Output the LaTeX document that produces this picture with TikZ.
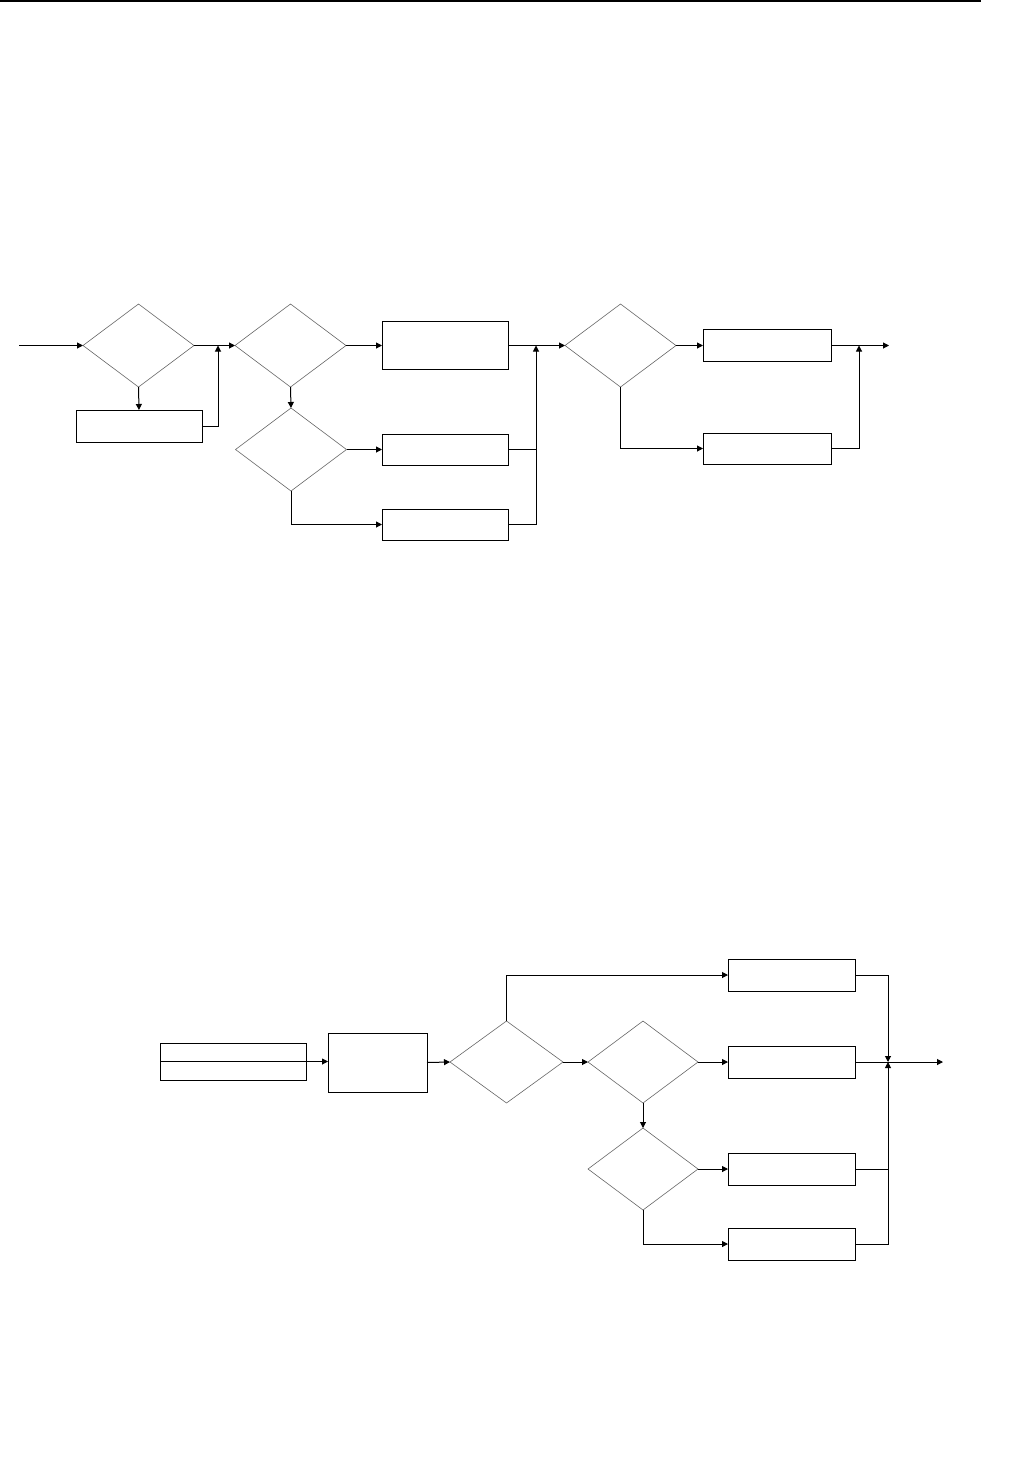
\documentclass[tikz,border=0pt]{standalone}
\usetikzlibrary{shapes.geometric,arrows.meta}
\begin{document}
\begin{tikzpicture}[x=1pt,y=-1pt,
  box/.style={draw, line width=1pt, inner sep=0pt, outer sep=0pt},
  dia/.style={diamond, draw=black!60, line width=0.6pt, inner sep=0pt, outer sep=0pt, minimum width=111pt, minimum height=83pt},
  arr/.style={-{Triangle[length=6pt,width=6pt]}, line width=1pt},
  ln/.style={line width=1pt}]
\useasboundingbox (0,0) rectangle (1021,1467);
\draw[line width=1.2pt] (0,1) -- (981,1);
% ---------- diagram 1 ----------
\node[dia] (D1) at (138.5,345.5) {};
\node[box, minimum width=126pt, minimum height=32pt] (B1) at (139,426) {};
\node[dia] (D2) at (290.5,345.5) {};
\node[dia] (D3) at (291,449.5) {};
\node[box, minimum width=126pt, minimum height=48pt] (B2) at (445,345.5) {};
\node[box, minimum width=126pt, minimum height=31pt] (B3) at (445,449.5) {};
\node[box, minimum width=126pt, minimum height=31pt] (B4) at (445,524.5) {};
\node[dia] (D4) at (620.5,345.5) {};
\node[box, minimum width=128pt, minimum height=32pt] (B5) at (767,345.5) {};
\node[box, minimum width=128pt, minimum height=31pt] (B6) at (767,448.5) {};
\coordinate (in1) at (19,345.5);
\coordinate (J1) at (218,345.5);
\coordinate (J2) at (536,345.5);
\coordinate (J3) at (859,345.5);
\coordinate (out1) at (889,345.5);
\draw[arr] (in1) -- (D1.west);
\draw[arr] (D1.south) -- (B1.north);
\draw[arr] (B1.east) -| (J1);
\draw[arr] (D1.east) -- (D2.west);
\draw[arr] (D2.east) -- (B2.west);
\draw[arr] (D2.south) -- (D3.north);
\draw[arr] (D3.east) -- (B3.west);
\draw[arr] (D3.south) |- (B4.west);
\draw[arr] (B2.east) -- (D4.west);
\draw[arr] (B4.east) -| (J2);
\draw[ln] (B3.east) -- (B3.east -| J2);
\draw[arr] (D4.east) -- (B5.west);
\draw[arr] (D4.south) |- (B6.west);
\draw[arr] (B5.east) -- (out1);
\draw[arr] (B6.east) -| (J3);
% ---------- diagram 2 ----------
\node[box, minimum width=146pt, minimum height=37pt] (A) at (233,1061.5) {};
\node[box, minimum width=99pt, minimum height=59pt] (C) at (377.5,1062.5) {};
\node[dia, minimum width=113pt, minimum height=82pt] (D5) at (506.5,1062) {};
\node[dia, minimum width=110pt, minimum height=82pt] (D6) at (643,1062) {};
\node[dia, minimum width=110pt, minimum height=82pt] (D7) at (643,1169) {};
\node[box, minimum width=127pt, minimum height=32pt] (E1) at (791.5,975) {};
\node[box, minimum width=127pt, minimum height=32pt] (E2) at (791.5,1062) {};
\node[box, minimum width=127pt, minimum height=32pt] (E3) at (791.5,1169) {};
\node[box, minimum width=127pt, minimum height=32pt] (E4) at (791.5,1244) {};
\coordinate (J4) at (888,1062);
\coordinate (out2) at (943,1062);
\draw[arr] (A.west) -- (C.west |- A.west);
\draw[arr] (C.east) -- (D5.west);
\draw[arr] (D5.north) |- (E1.west);
\draw[arr] (D5.east) -- (D6.west);
\draw[arr] (D6.east) -- (E2.west);
\draw[arr] (D6.south) -- (D7.north);
\draw[arr] (D7.east) -- (E3.west);
\draw[arr] (D7.south) |- (E4.west);
\draw[arr] (E1.east) -| (J4);
\draw[arr] (E4.east) -| (J4);
\draw[ln] (E3.east) -- (E3.east -| J4);
\draw[arr] (E2.east) -- (out2);
\end{tikzpicture}
\end{document}
